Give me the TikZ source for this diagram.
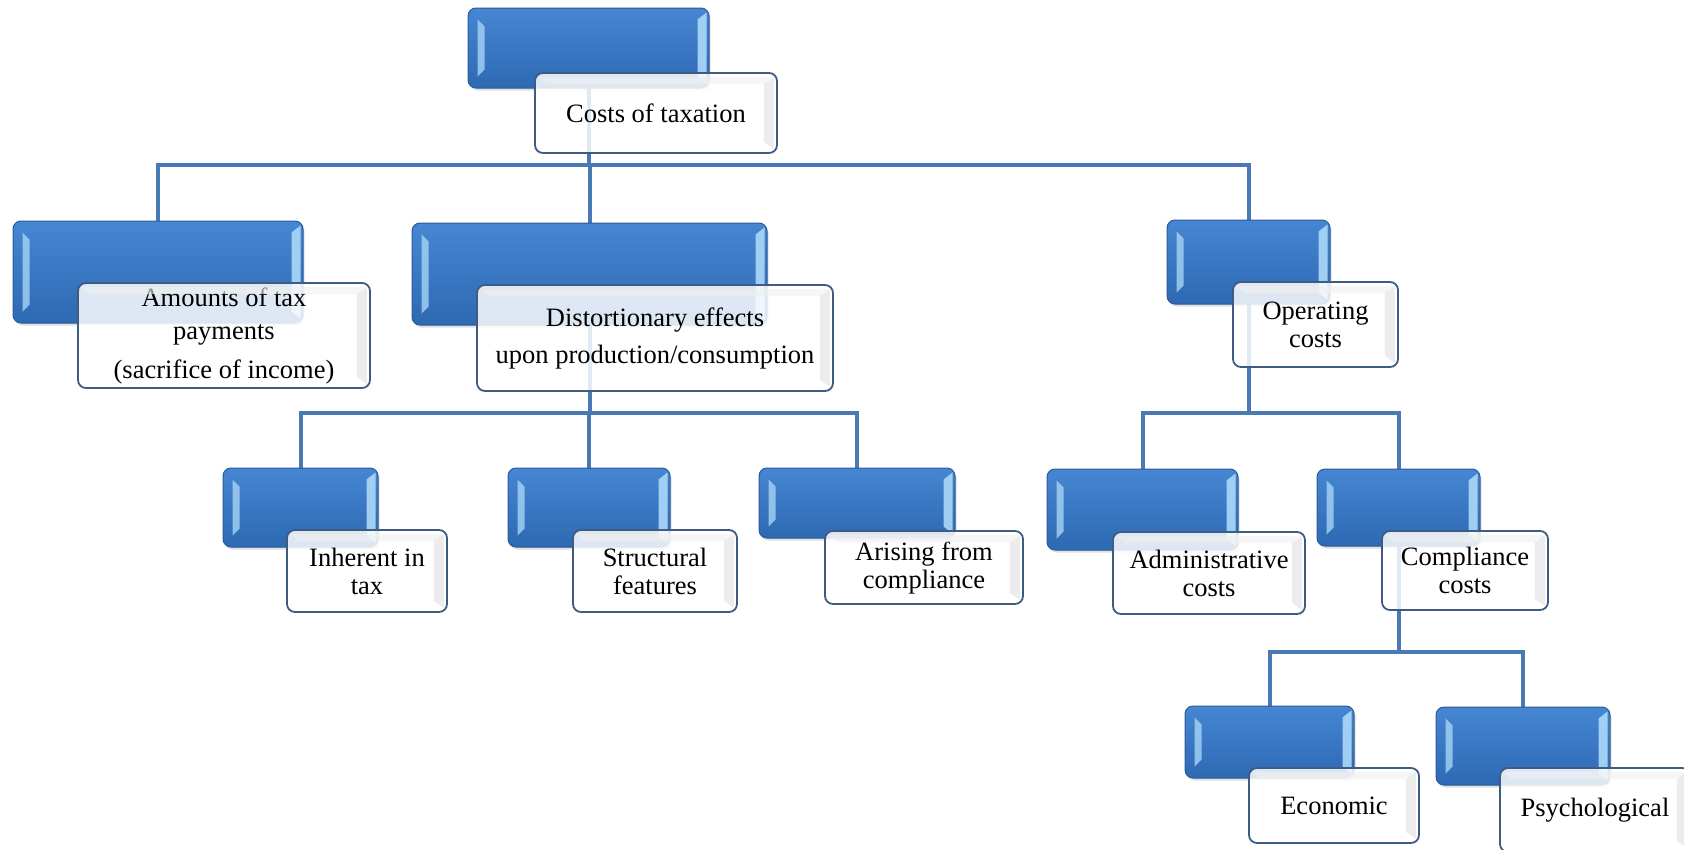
\documentclass[tikz,border=0pt]{standalone}
\usepackage{fontspec}
\setmainfont{Liberation Serif}
\usetikzlibrary{calc,shadows}
\definecolor{lineblue}{HTML}{4A7AB5}
\definecolor{boxtop}{HTML}{4686D2}
\definecolor{boxbot}{HTML}{2E69B3}
\definecolor{boxedge}{HTML}{2B5C98}
\definecolor{wedge}{HTML}{3E5C80}
\definecolor{bevlight}{HTML}{A6D4F6}
\pgfdeclarelayer{bg}
\pgfsetlayers{bg,main}
\tikzset{
  bluebox/.style={draw=boxedge, line width=1pt, rounded corners=8pt,
    top color=boxtop, bottom color=boxbot, inner sep=0pt,
    drop shadow={opacity=0.25, shadow xshift=1.5pt, shadow yshift=-2.5pt}},
  whitebox/.style={draw=wedge, line width=1.8pt, rounded corners=8pt,
    fill=white, fill opacity=0.84, text opacity=1, draw opacity=1,
    font=\fontsize{26.5}{28}\selectfont, align=center, inner sep=0pt, text=black},
  conn/.style={draw=lineblue, line width=4pt},
  bevL/.style={fill=bevlight, opacity=0.8},
  bevR/.style={fill=bevlight, opacity=0.95},
  wbevel/.style={fill=black!12, opacity=0.6}
}
\newcommand\bev[1]{%
  \fill[bevL] ($(#1.north west)+(10,12)$) -- ($(#1.north west)+(17,19)$) -- ($(#1.south west)+(17,-19)$) -- ($(#1.south west)+(10,-12)$) -- cycle;
  \fill[bevR] ($(#1.north east)+(-12,12)$) -- ($(#1.north east)+(-3,5)$) -- ($(#1.south east)+(-3,-5)$) -- ($(#1.south east)+(-12,-12)$) -- cycle;
}
\newcommand\wbev[1]{%
  \fill[wbevel] ($(#1.north east)+(-14,12)$) -- ($(#1.north east)+(-4,5)$) -- ($(#1.south east)+(-4,-5)$) -- ($(#1.south east)+(-14,-12)$) -- cycle;
  \fill[fill=black!6, opacity=0.6] ($(#1.north west)+(5,5)$) -- ($(#1.north east)+(-5,5)$) -- ($(#1.north east)+(-14,12)$) -- ($(#1.north west)+(12,12)$) -- cycle;
}
\begin{document}
\begin{tikzpicture}[x=1pt,y=-1pt]
\useasboundingbox (0,0) rectangle (1684,849);
\coordinate (h1) at (0,165);
\coordinate (h2) at (0,413);
\coordinate (h3) at (0,652);

% root
\node[bluebox, minimum width=241pt, minimum height=80pt] (b0) at (588.5,48) {};
\bev{b0}
\node[whitebox, minimum width=242pt, minimum height=80pt] (w0) at (656,113) {Costs of taxation};
\wbev{w0}

% level 1
\node[bluebox, minimum width=290pt, minimum height=102pt] (b1) at (158,272) {};
\bev{b1}
\node[whitebox, minimum width=292pt, minimum height=105pt, font=\fontsize{26.5}{33}\selectfont] (w1) at (224,335.5) {Amounts of tax\\payments\\[6pt](sacrifice of income)};
\wbev{w1}

\node[bluebox, minimum width=355pt, minimum height=102pt] (b2) at (589.5,274) {};
\bev{b2}
\node[whitebox, minimum width=356pt, minimum height=106pt, font=\fontsize{26.5}{37}\selectfont] (w2) at (655,338) {Distortionary effects\\upon production/consumption};
\wbev{w2}

\node[bluebox, minimum width=163pt, minimum height=84pt] (b3) at (1248.5,262) {};
\bev{b3}
\node[whitebox, minimum width=165pt, minimum height=85pt] (w3) at (1315.5,324.5) {Operating\\costs};
\wbev{w3}

% level 2
\node[bluebox, minimum width=155pt, minimum height=79pt] (b4) at (300.5,507.5) {};
\bev{b4}
\node[whitebox, minimum width=160pt, minimum height=82pt] (w4) at (367,571) {Inherent in\\tax};
\wbev{w4}

\node[bluebox, minimum width=162pt, minimum height=79pt] (b5) at (589,507.5) {};
\bev{b5}
\node[whitebox, minimum width=164pt, minimum height=82pt] (w5) at (655,571) {Structural\\features};
\wbev{w5}

\node[bluebox, minimum width=196pt, minimum height=70pt] (b6) at (857,503) {};
\bev{b6}
\node[whitebox, minimum width=198pt, minimum height=73pt] (w6) at (924,567.5) {Arising from\\compliance};
\wbev{w6}

\node[bluebox, minimum width=191pt, minimum height=81pt] (b7) at (1142.5,509.5) {};
\bev{b7}
\node[whitebox, minimum width=192pt, minimum height=82pt] (w7) at (1209,573) {Administrative\\costs};
\wbev{w7}

\node[bluebox, minimum width=163pt, minimum height=77pt] (b8) at (1398.5,507.5) {};
\bev{b8}
\node[whitebox, minimum width=166pt, minimum height=79pt] (w8) at (1465,570.5) {Compliance\\costs};
\wbev{w8}

% level 3
\node[bluebox, minimum width=169pt, minimum height=72pt] (b9) at (1269.5,742) {};
\bev{b9}
\node[whitebox, minimum width=170pt, minimum height=75pt] (w9) at (1334,805.5) {Economic};
\wbev{w9}

\node[bluebox, minimum width=174pt, minimum height=78pt] (b10) at (1523,746) {};
\bev{b10}
\node[whitebox, minimum width=190pt, minimum height=84pt] (w10) at (1595,810) {Psychological};
\wbev{w10}

% connectors
\begin{pgfonlayer}{bg}
\draw[conn] (b0.center) -- (b0.center |- h1) -| (b1.north);
\draw[conn] (b0.center) -- (b0.center |- h1) -| (b2.north);
\draw[conn] (b0.center) -- (b0.center |- h1) -| (b3.north);
\draw[conn] (b2.center) -- (b2.center |- h2) -| (b4.north);
\draw[conn] (b2.center) -- (b2.center |- h2) -| (b5.north);
\draw[conn] (b2.center) -- (b2.center |- h2) -| (b6.north);
\draw[conn] (b3.center) -- (b3.center |- h2) -| (b7.north);
\draw[conn] (b3.center) -- (b3.center |- h2) -| (b8.north);
\draw[conn] (b8.center) -- (b8.center |- h3) -| (b9.north);
\draw[conn] (b8.center) -- (b8.center |- h3) -| (b10.north);
\end{pgfonlayer}
\end{tikzpicture}
\end{document}
